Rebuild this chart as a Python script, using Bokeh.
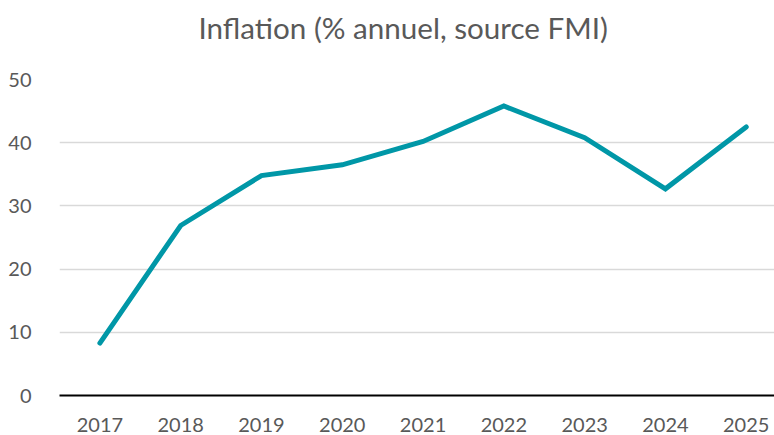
from bokeh.plotting import figure
from bokeh.models import Range1d, FixedTicker, ColumnDataSource, Title
from bokeh.embed import file_html
from bokeh.resources import INLINE

years = [2017, 2018, 2019, 2020, 2021, 2022, 2023, 2024, 2025]
inflation = [8.3, 26.9, 34.8, 36.5, 40.2, 45.8, 40.8, 32.7, 42.5]
y_ticks = [0, 10, 20, 30, 40, 50]
title_text = "Inflation (% annuel, source FMI)"

FONT = "Lato"
TEXT = "#595959"

p = figure(width=774, height=435, output_backend="svg", toolbar_location=None,
           x_range=Range1d(2016.5, 2025.35), y_range=Range1d(0, 50),
           min_border_left=59, min_border_right=0, min_border_top=79, min_border_bottom=40)
p.outline_line_color = None
p.background_fill_color = "white"
p.border_fill_color = "white"

p.title.text = title_text
p.title.align = "left"
p.title.offset = 139
p.title.vertical_align = "bottom"
p.title.standoff = 0
p.title.text_font = FONT
p.title.text_font_size = "29.6px"
p.title.text_font_style = "normal"
p.title.text_color = TEXT

# empty spacer between the title and the plot frame
p.add_layout(Title(text=" ", text_font_size="1px", standoff=32), "above")

src = ColumnDataSource(dict(x=years, y=inflation))
p.line("x", "y", source=src, line_color="#0097A7", line_width=5, line_cap="round", line_join="miter")

p.xaxis.ticker = FixedTicker(ticks=years)
p.yaxis.ticker = FixedTicker(ticks=y_ticks)
for ax in (p.xaxis, p.yaxis):
    ax.major_tick_line_color = None
    ax.minor_tick_line_color = None
    ax.major_label_text_font = FONT
    ax.major_label_text_font_size = "20px"
    ax.major_label_text_color = TEXT
p.xaxis.axis_line_color = "black"
p.xaxis.axis_line_width = 2
p.xaxis.major_label_standoff = 16
p.yaxis.axis_line_color = None
p.yaxis.major_label_standoff = 22

p.xgrid.grid_line_color = None
p.ygrid.grid_line_color = "#d9d9d9"
p.ygrid.grid_line_width = 1.5

open("out.html", "w").write(file_html(p, INLINE))
